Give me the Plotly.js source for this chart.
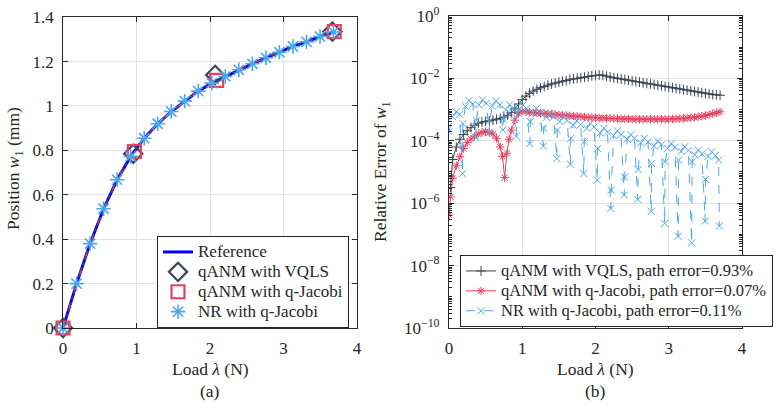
<!DOCTYPE html>
<html><head><meta charset="utf-8">
<script src="https://cdn.plot.ly/plotly-3.0.1.min.js"></script>
<style>html,body{margin:0;padding:0;background:#fff}#chart{width:783px;height:409px}</style>
</head><body><div id="chart"></div>
<script>
// ---------- Panel (a): position w1 vs load ----------
const refX = [0,0.184,0.368,0.552,0.736,0.92,1.104,1.288,1.472,1.656,1.84,2.024,2.208,2.392,2.576,2.76,2.944,3.128,3.312,3.496,3.68];
const refY = [0,0.20,0.38,0.537,0.668,0.773,0.855,0.92,0.975,1.022,1.067,1.103,1.133,1.163,1.19,1.217,1.242,1.268,1.289,1.313,1.333];
const vqlsX = [0,0.955,2.07,3.665];
const vqlsY = [0,0.785,1.14,1.335];
const qjX = [0,0.97,2.09,3.69];
const qjY = [0,0.795,1.115,1.335];
const nrX = [0,0.184,0.368,0.552,0.736,0.92,1.104,1.288,1.472,1.656,1.84,2.024,2.208,2.392,2.576,2.76,2.944,3.128,3.312,3.496,3.68];
const nrY = [0,0.20,0.38,0.537,0.668,0.773,0.855,0.92,0.975,1.022,1.067,1.103,1.133,1.163,1.19,1.217,1.242,1.268,1.289,1.313,1.333];

// ---------- Panel (b): relative error (log10 values) ----------
const vqlsErrX = [0.02,0.05,0.1,0.15,0.2,0.25,0.3,0.35,0.4,0.45,0.5,0.55,0.6,0.65,0.7,0.75,0.8,0.85,0.9,0.95,1.0,1.05,1.1,1.15,1.2,1.25,1.3,1.35,1.4,1.45,1.5,1.55,1.6,1.65,1.7,1.75,1.8,1.85,1.9,1.95,2.0,2.05,2.1,2.15,2.2,2.25,2.3,2.35,2.4,2.45,2.5,2.55,2.6,2.65,2.7,2.75,2.8,2.85,2.9,2.95,3.0,3.05,3.1,3.15,3.2,3.25,3.3,3.35,3.4,3.45,3.5,3.55,3.6,3.65,3.7];
const vqlsErrLog = [-5.5,-4.6,-4.2,-3.95,-3.8,-3.68,-3.58,-3.5,-3.44,-3.4,-3.38,-3.36,-3.34,-3.31,-3.28,-3.24,-3.18,-3.1,-2.98,-2.82,-2.68,-2.57,-2.48,-2.41,-2.35,-2.3,-2.26,-2.22,-2.18,-2.15,-2.12,-2.09,-2.07,-2.04,-2.02,-2.0,-1.98,-1.96,-1.94,-1.92,-1.91,-1.89,-1.9,-1.93,-1.96,-1.98,-2.0,-2.02,-2.04,-2.06,-2.08,-2.1,-2.12,-2.14,-2.16,-2.18,-2.2,-2.22,-2.24,-2.26,-2.28,-2.3,-2.32,-2.34,-2.36,-2.38,-2.4,-2.42,-2.44,-2.46,-2.48,-2.5,-2.52,-2.53,-2.54];

const qjErrX = [0,0.02,0.05,0.1,0.15,0.2,0.25,0.3,0.35,0.4,0.45,0.5,0.55,0.6,0.65,0.7,0.73,0.76,0.79,0.82,0.85,0.9,0.95,1.0,1.05,1.1,1.15,1.2,1.25,1.3,1.35,1.4,1.45,1.5,1.55,1.6,1.65,1.7,1.75,1.8,1.85,1.9,1.95,2.0,2.05,2.1,2.15,2.2,2.25,2.3,2.35,2.4,2.45,2.5,2.55,2.6,2.65,2.7,2.75,2.8,2.85,2.9,2.95,3.0,3.05,3.1,3.15,3.2,3.25,3.3,3.35,3.4,3.45,3.5,3.55,3.6,3.65,3.7];
const qjErrLog = [-6.38,-5.8,-5.2,-4.8,-4.51,-4.25,-4.06,-3.94,-3.85,-3.78,-3.73,-3.71,-3.72,-3.78,-3.92,-4.2,-4.5,-5.18,-4.4,-3.95,-3.66,-3.34,-3.12,-3.05,-3.07,-3.09,-3.1,-3.11,-3.12,-3.13,-3.14,-3.15,-3.16,-3.17,-3.18,-3.19,-3.2,-3.21,-3.22,-3.23,-3.24,-3.25,-3.26,-3.26,-3.27,-3.27,-3.28,-3.28,-3.29,-3.29,-3.3,-3.3,-3.3,-3.31,-3.31,-3.31,-3.31,-3.31,-3.31,-3.31,-3.31,-3.31,-3.31,-3.31,-3.3,-3.3,-3.29,-3.28,-3.27,-3.26,-3.25,-3.23,-3.21,-3.19,-3.16,-3.13,-3.1,-3.07];

const nrErrX = [0,0.05,0.1,0.145,
0.184,0.19,0.224,0.274,0.324,
0.368,0.374,0.408,0.458,0.508,
0.552,0.558,0.592,0.642,0.692,
0.736,0.742,0.776,0.826,0.876,
0.92,0.926,0.96,1.01,1.06,
1.104,1.11,1.144,1.194,1.244,
1.288,1.294,1.328,1.378,1.428,
1.472,1.478,1.512,1.562,1.612,
1.656,1.662,1.696,1.746,1.796,
1.84,1.846,1.88,1.93,1.98,
2.024,2.03,2.064,2.114,2.164,
2.208,2.214,2.248,2.298,2.348,
2.392,2.398,2.432,2.482,2.532,
2.576,2.582,2.616,2.666,2.716,
2.76,2.766,2.8,2.85,2.9,
2.944,2.95,2.984,3.034,3.084,
3.128,3.134,3.168,3.218,3.268,
3.312,3.318,3.352,3.402,3.452,
3.496,3.502,3.536,3.586,3.636,
3.68,3.69];
const nrErrLog = [-3.71,-3.23,-3.07,-3.15,
-5.05,-3.45,-2.9,-2.71,-2.82,
-3.9,-3.35,-2.85,-2.69,-2.8,
-3.75,-3.35,-2.88,-2.72,-2.85,
-3.65,-3.3,-3.0,-2.85,-2.95,
-3.85,-3.1,-2.98,-2.85,-2.97,
-4.09,-3.39,-3.1,-2.96,-3.08,
-4.17,-3.6,-3.25,-3.12,-3.24,
-4.57,-3.66,-3.38,-3.23,-3.35,
-4.75,-3.92,-3.5,-3.36,-3.48,
-5.05,-4.03,-3.6,-3.44,-3.56,
-5.26,-4.25,-3.75,-3.6,-3.72,
-6.17,-5.58,-3.83,-3.68,-3.8,
-5.74,-5.16,-3.95,-3.8,-3.92,
-5.88,-4.92,-4.07,-3.92,-4.04,
-6.26,-4.73,-4.16,-4.01,-4.13,
-6.65,-4.67,-4.24,-4.09,-4.21,
-7.06,-4.62,-4.34,-4.19,-4.31,
-7.27,-4.67,-4.45,-4.3,-4.42,
-6.57,-5.24,-4.5,-4.35,-4.47,
-4.62,-6.73];

const yTickVals = [1e-10,1e-8,1e-6,1e-4,1e-2,1];
const yTickText = ['10<sup>−10</sup>','10<sup>−8</sup>','10<sup>−6</sup>','10<sup>−4</sup>','10<sup>−2</sup>','10<sup>0</sup>'];

// minor ticks of the log axis (axis decoration, not data)
const minorVals = [];
for (let e = -10; e < 0; e++) for (let d = 1; d <= 9; d++) if (!(d === 1 && e % 2 === 0)) minorVals.push(d * Math.pow(10, e));

const FONT = "'Liberation Serif', 'Times New Roman', serif";
const C_REF = "#0000ff", C_VQLS = "#3d4756", C_QJ = "#e8405e", C_NR = "#4aa8ee", C_AX = "#262626";
const fromLog = a => a.map(v => Math.pow(10, v));
const big = (t, s) => '<span style="font-size:' + s + 'px">' + t + '</span>';

const traces = [
  {x: refX, y: refY, type:'scatter', mode:'lines', name:big('Reference',17), line:{color:C_REF, width:3}, xaxis:'x', yaxis:'y', legend:'legend', cliponaxis:false},
  {x: refX, y: refY, type:'scatter', mode:'lines', showlegend:false, line:{color:C_QJ, width:1.5, dash:'dash'}, xaxis:'x', yaxis:'y', cliponaxis:false},
  {x: refX, y: refY, type:'scatter', mode:'lines', showlegend:false, line:{color:C_VQLS, width:1.5, dash:'dot'}, xaxis:'x', yaxis:'y', cliponaxis:false},
  {x: vqlsX, y: vqlsY, type:'scatter', mode:'markers', name:big('qANM with VQLS',17), cliponaxis:false, marker:{symbol:'diamond-open', size:14, color:C_VQLS, line:{width:2.2, color:C_VQLS}}, xaxis:'x', yaxis:'y', legend:'legend'},
  {x: qjX, y: qjY, type:'scatter', mode:'markers', name:big('qANM with q-Jacobi',17), cliponaxis:false, marker:{symbol:'square-open', size:13, color:C_QJ, line:{width:2.2, color:C_QJ}}, xaxis:'x', yaxis:'y', legend:'legend'},
  {x: nrX, y: nrY, type:'scatter', mode:'markers', name:big('NR with q-Jacobi',17), cliponaxis:false, marker:{symbol:'asterisk-open', size:12, color:C_NR, line:{width:1.6, color:C_NR}}, xaxis:'x', yaxis:'y', legend:'legend'},

  {x: vqlsErrX, y: fromLog(vqlsErrLog), type:'scatter', mode:'lines+markers', name:big('qANM with VQLS, path error=0.93%',16.5), line:{color:C_VQLS, width:1}, marker:{symbol:'cross-thin-open', size:7, color:C_VQLS, line:{width:1, color:C_VQLS}}, xaxis:'x2', yaxis:'y2', legend:'legend2'},
  {x: qjErrX, y: fromLog(qjErrLog), type:'scatter', mode:'lines+markers', name:big('qANM with q-Jacobi, path error=0.07%',16.5), line:{color:C_QJ, width:1}, marker:{symbol:'asterisk-open', size:7, color:C_QJ, line:{width:1, color:C_QJ}}, xaxis:'x2', yaxis:'y2', legend:'legend2'},
  {x: nrErrX, y: fromLog(nrErrLog), type:'scatter', mode:'lines+markers', name:big('NR with q-Jacobi, path error=0.11%',16.5), line:{color:C_NR, width:1, dash:'dash'}, marker:{symbol:'x-thin-open', size:7, color:C_NR, line:{width:1, color:C_NR}}, xaxis:'x2', yaxis:'y2', legend:'legend2'}
];

const axBase = {showline:true, linecolor:C_AX, linewidth:1, mirror:'ticks', ticks:'inside', ticklen:5, tickcolor:C_AX, showgrid:true, gridcolor:'#e2e2e2', gridwidth:1, zeroline:false, automargin:false, ticklabelstandoff:5, tickfont:{family:FONT, size:17, color:C_AX}};
const legBase = {xanchor:'left', yanchor:'top', bgcolor:'#ffffff', bordercolor:C_AX, borderwidth:1, font:{family:FONT, size:13, color:C_AX}, tracegroupgap:0};
const annFont = {family:FONT, size:17.5, color:C_AX};

const layout = {
  width:783, height:409, margin:{l:0, r:0, t:0, b:0, autoexpand:false},
  paper_bgcolor:'#fff', plot_bgcolor:'#fff',
  font:{family:FONT, color:C_AX},
  xaxis: Object.assign({}, axBase, {domain:[0.0805,0.456], range:[0,4], tick0:0, dtick:1, anchor:'y'}),
  yaxis: Object.assign({}, axBase, {domain:[0.198,0.958], range:[0,1.4], tick0:0, dtick:0.2, anchor:'x'}),
  xaxis2: Object.assign({}, axBase, {domain:[0.5734,0.9477], range:[0,4], tick0:0, dtick:1, anchor:'y2'}),
  yaxis2: Object.assign({}, axBase, {domain:[0.198,0.961], type:'log', range:[-10,0], tickmode:'array', tickvals:yTickVals, ticktext:yTickText, anchor:'x2',
    minor:{ticks:'inside', ticklen:3, tickcolor:C_AX, tickmode:'array', tickvals:minorVals, showgrid:false}}),
  legend: Object.assign({}, legBase, {x:0.2005, y:(409-236)/409}),
  legend2: Object.assign({}, legBase, {x:0.5875, y:(409-255)/409}),
  annotations: [
    {text:'Position <i>w</i><sub>1</sub> (mm)', x:15/783, y:(409-169)/409, xref:'paper', yref:'paper', xanchor:'center', yanchor:'middle', textangle:-90, showarrow:false, font:annFont},
    {text:'Relative Error of <i>w</i><sub>1</sub>', x:381/783, y:(409-172)/409, xref:'paper', yref:'paper', xanchor:'center', yanchor:'middle', textangle:-90, showarrow:false, font:annFont},
    {text:'Load <i>λ</i> (N)', x:210/783, y:(409-369)/409, xref:'paper', yref:'paper', xanchor:'center', yanchor:'middle', showarrow:false, font:annFont},
    {text:'Load <i>λ</i> (N)', x:595.5/783, y:(409-369)/409, xref:'paper', yref:'paper', xanchor:'center', yanchor:'middle', showarrow:false, font:annFont},
    {text:'(a)', x:210/783, y:(409-391)/409, xref:'paper', yref:'paper', xanchor:'center', yanchor:'middle', showarrow:false, font:annFont},
    {text:'(b)', x:595.5/783, y:(409-391)/409, xref:'paper', yref:'paper', xanchor:'center', yanchor:'middle', showarrow:false, font:annFont}
  ]
};

Plotly.newPlot('chart', traces, layout, {staticPlot:true});
</script></body></html>
